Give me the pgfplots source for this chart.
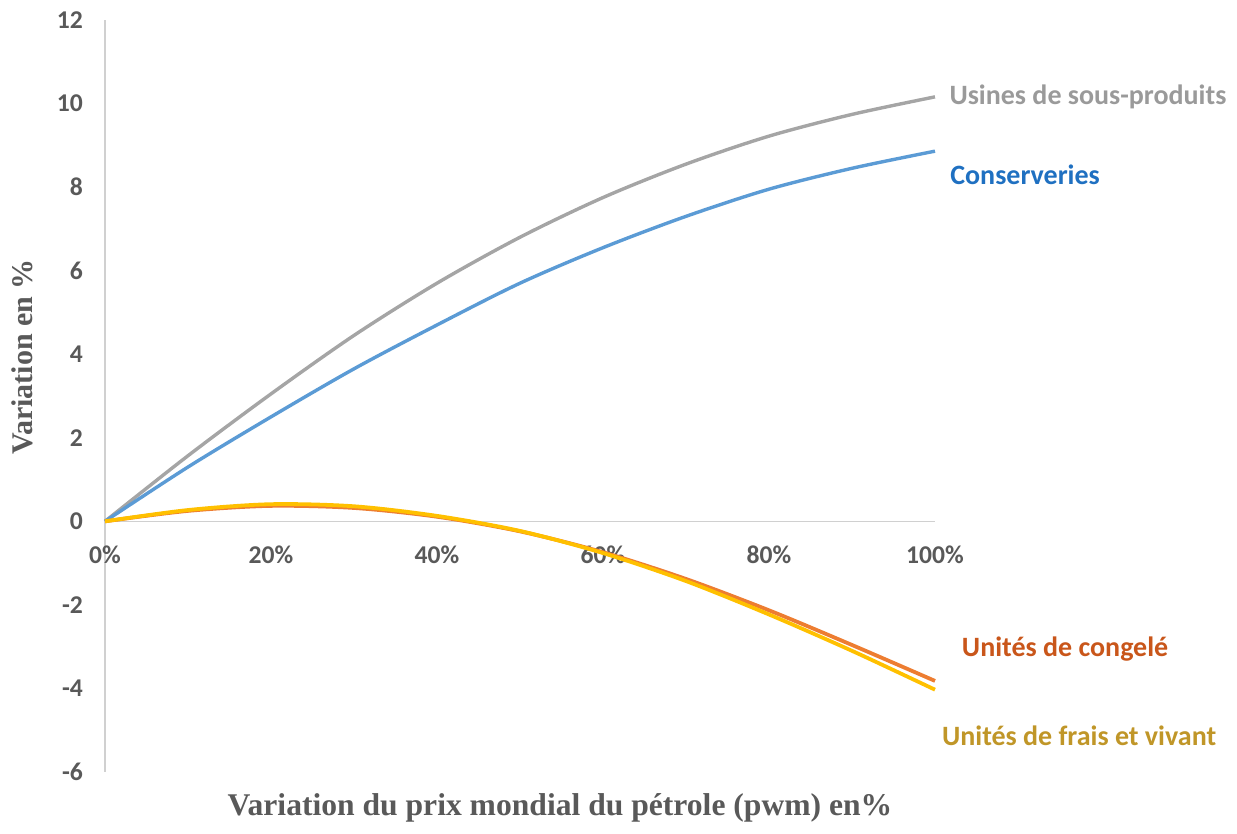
\documentclass[border=0pt]{standalone}
\usepackage{pgfplots}
\pgfplotsset{compat=1.18}
\usepackage{fontspec}
\setmainfont{Carlito}
\newfontfamily\timesb{Liberation Serif}
\definecolor{tickgray}{HTML}{595959}
\definecolor{axgray}{HTML}{D0D0D0}
\definecolor{lgray}{HTML}{A5A5A5}
\definecolor{tgray}{HTML}{9A9A9A}
\definecolor{lblue}{HTML}{5B9BD5}
\definecolor{tblue}{HTML}{1F70C1}
\definecolor{lorange}{HTML}{ED7D31}
\definecolor{torange}{HTML}{C9561A}
\definecolor{lyellow}{HTML}{FFC000}
\definecolor{tyellow}{HTML}{C09628}
\begin{document}
\begin{tikzpicture}[x=1pt,y=1pt]
\useasboundingbox (0,0) rectangle (618.5,417);
\begin{axis}[
  at={(52.5pt,31pt)}, anchor=south west,
  scale only axis, width=415pt, height=376pt,
  xmin=0, xmax=100, ymin=-6, ymax=12,
  axis x line*=middle, axis y line*=left,
  axis line style={axgray, line width=0.8pt},
  hide obscured x ticks=false, hide obscured y ticks=false,
  major tick length=0pt,
  xtick={0,20,40,60,80,100},
  xticklabels={0\%,20\%,40\%,60\%,80\%,100\%},
  ytick={-6,-4,-2,0,2,4,6,8,10,12},
  yticklabels={-6,-4,-2,0,2,4,6,8,10,12},
  /pgf/number format/assume math mode=true,
  tick label style={font=\fontsize{12.8}{15}\selectfont\bfseries, text=tickgray},
  xticklabel style={yshift=-8.5pt},
  yticklabel style={xshift=-7.5pt},
  clip=false,
]
\addplot[lgray, line width=1.7pt, smooth] coordinates {
(0,0) (10,1.57) (20,3.05) (30,4.45) (40,5.7) (50,6.8) (60,7.75) (70,8.55) (80,9.22) (90,9.74) (100,10.16)};
\addplot[lblue, line width=1.7pt, smooth] coordinates {
(0,0) (10,1.3) (20,2.5) (30,3.65) (40,4.7) (50,5.7) (60,6.55) (70,7.3) (80,7.95) (90,8.45) (100,8.86)};
\addplot[lorange, line width=1.9pt, smooth] coordinates {
(0,0) (10,0.25) (20,0.37) (30,0.32) (40,0.11) (50,-0.24) (60,-0.74) (70,-1.38) (80,-2.13) (90,-2.96) (100,-3.82)};
\addplot[lyellow, line width=1.9pt, smooth] coordinates {
(0,0) (10,0.27) (20,0.41) (30,0.36) (40,0.13) (50,-0.23) (60,-0.76) (70,-1.43) (80,-2.23) (90,-3.1) (100,-4.03)};
\node[anchor=west, text=tgray, font=\fontsize{14}{16}\selectfont\bfseries, inner sep=0pt] at (axis cs:101.7,10.15) {Usines de sous-produits};
\node[anchor=west, text=tblue, font=\fontsize{14}{16}\selectfont\bfseries, inner sep=0pt] at (axis cs:101.8,8.3) {Conserveries};
\node[anchor=west, text=torange, font=\fontsize{14}{16}\selectfont\bfseries, inner sep=0pt] at (axis cs:103.2,-3.05) {Unités de congelé};
\node[anchor=west, text=tyellow, font=\fontsize{14}{16}\selectfont\bfseries, inner sep=0pt] at (axis cs:100.8,-5.14) {Unités de frais et vivant};
\end{axis}
\node[text=tickgray, font=\timesb\fontsize{15.8}{18}\selectfont\bfseries] at (280,13) {Variation du prix mondial du pétrole (pwm) en\%};
\node[text=tickgray, font=\timesb\fontsize{15}{17}\selectfont\bfseries, rotate=90] at (11,238.5) {Variation en \%};
\end{tikzpicture}
\end{document}
